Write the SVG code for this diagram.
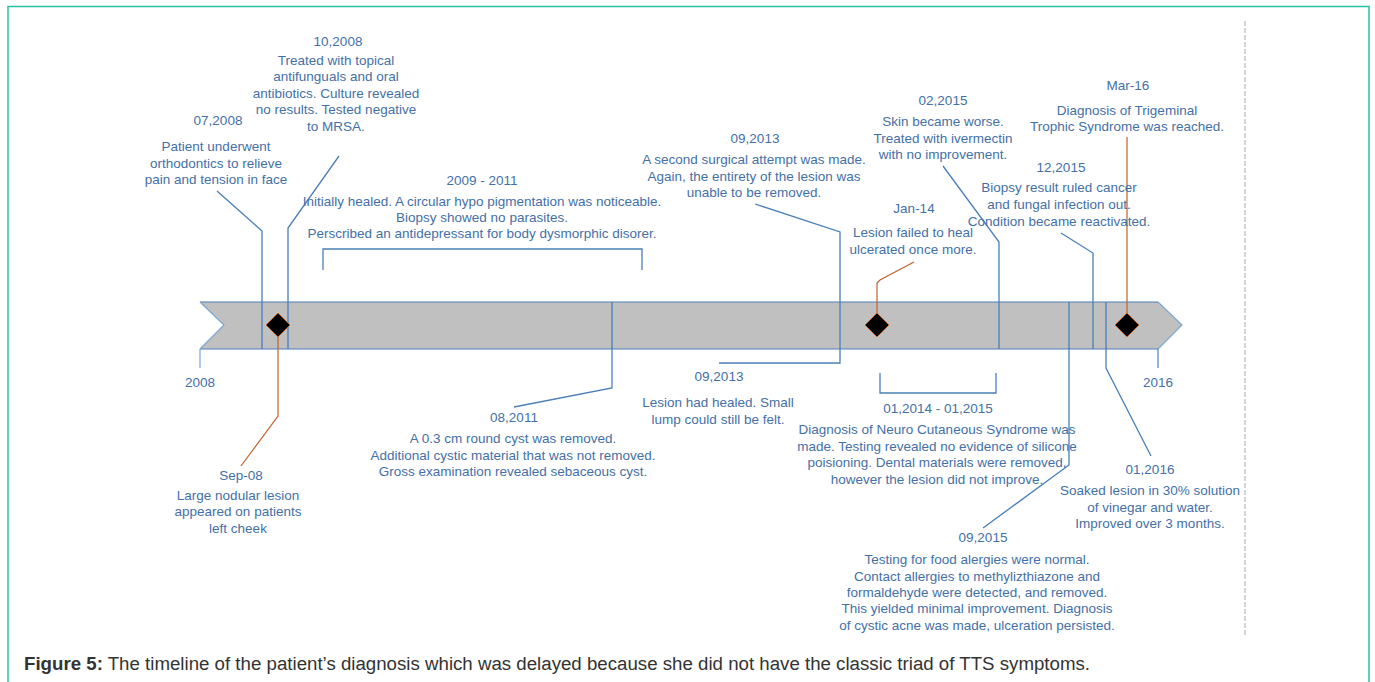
<svg xmlns="http://www.w3.org/2000/svg" width="1375" height="682" viewBox="0 0 1375 682">
<defs>
<style>
.t{font-family:"Liberation Sans",Arial,sans-serif;font-size:13.5px;fill:#4470a6;text-anchor:middle}
.c{fill:none;stroke:#4a7fb8;stroke-width:1.3}
.o{fill:none;stroke:#c0612a;stroke-width:1.2}
.d{fill:#000;stroke:#c0612a;stroke-width:1}
.cap{font-family:"Liberation Sans",Arial,sans-serif;font-size:18px;fill:#333}
</style>
</defs>
<rect x="8" y="6.5" width="1361" height="720" fill="#fff" stroke="#28c2a4" stroke-width="1.5"/>
<line x1="1245" y1="21" x2="1245" y2="637" stroke="#bdbdbd" stroke-width="1.3" stroke-dasharray="5,2"/>
<g id="timeline-bar">
<polygon points="200,302 1158,302 1182,325 1158,349 200,349 224,325" fill="#c0c0c0" stroke="none"/>
<line x1="200" y1="302" x2="1158" y2="302" stroke="#4a7fb8" stroke-width="1.2"/>
<line x1="200" y1="349" x2="1158" y2="349" stroke="#4a7fb8" stroke-width="1.2"/>
<polyline points="200,302 224,325 200,349" fill="none" stroke="#7aa7d6" stroke-width="1.2"/>
<polyline points="1158,302 1182,325 1158,349" fill="none" stroke="#7aa7d6" stroke-width="1.2"/>
<line x1="200" y1="349" x2="200" y2="368" stroke="#7aa7d6" stroke-width="1.2"/>
<line x1="1158" y1="349" x2="1158" y2="368" stroke="#4a7fb8" stroke-width="1.2"/>
<text class="t" x="200" y="387">2008</text>
<text class="t" x="1158" y="387">2016</text>
</g>
<g id="connectors">
<path class="c" d="M217,191 L262,231 V349"/>
<path class="c" d="M339,156 L288,228 V349"/>
<path class="c" d="M323,270 V249 H642 V270"/>
<path class="c" d="M612,302 V388 L514,407"/>
<path class="c" d="M755,204 L840,232 V363 H719"/>
<path class="c" d="M880,373 V393 H996 V373"/>
<path class="c" d="M943,166 L999,242 V349"/>
<path class="c" d="M1069,302 V465 L983,528"/>
<path class="c" d="M1061,233 L1093,253 V349"/>
<path class="c" d="M1106,302 V368 L1151,456"/>
<path class="o" d="M278,337 V416 L241,466"/>
<path class="o" d="M914,262 L880,280 L877,283 V313"/>
<path class="o" d="M1127,137 V313"/>
</g>
<g id="diamond-sep08"><polygon class="d" points="278,313 290,325 278,337 266,325"/></g>
<g id="diamond-jan14"><polygon class="d" points="877,313 889,325 877,337 865,325"/></g>
<g id="diamond-mar16"><polygon class="d" points="1127,313 1139,325 1127,337 1115,325"/></g>
<g id="n-10-2008">
<text class="t" x="338" y="46">10,2008</text>
<text class="t" x="336" y="65">Treated with topical</text>
<text class="t" x="336" y="81">antifunguals and oral</text>
<text class="t" x="336" y="98">antibiotics. Culture revealed</text>
<text class="t" x="336" y="114">no results. Tested negative</text>
<text class="t" x="336" y="131">to MRSA.</text>
</g>
<g id="n-07-2008">
<text class="t" x="218" y="125">07,2008</text>
<text class="t" x="216" y="151">Patient underwent</text>
<text class="t" x="216" y="168">orthodontics to relieve</text>
<text class="t" x="216" y="184">pain and tension in face</text>
</g>
<g id="n-2009-2011">
<text class="t" x="482" y="185">2009 - 2011</text>
<text class="t" x="482" y="206">Initially healed. A circular hypo pigmentation was noticeable.</text>
<text class="t" x="482" y="222">Biopsy showed no parasites.</text>
<text class="t" x="482" y="238">Perscribed an antidepressant for body dysmorphic disorer.</text>
</g>
<g id="n-09-2013a">
<text class="t" x="755" y="143">09,2013</text>
<text class="t" x="754" y="164">A second surgical attempt was made.</text>
<text class="t" x="754" y="181">Again, the entirety of the lesion was</text>
<text class="t" x="754" y="197">unable to be removed.</text>
</g>
<g id="n-02-2015">
<text class="t" x="943" y="105">02,2015</text>
<text class="t" x="943" y="126">Skin became worse.</text>
<text class="t" x="943" y="143">Treated with ivermectin</text>
<text class="t" x="943" y="159">with no improvement.</text>
</g>
<g id="n-jan-14">
<text class="t" x="914" y="213">Jan-14</text>
<text class="t" x="913" y="237">Lesion failed to heal</text>
<text class="t" x="913" y="254">ulcerated once more.</text>
</g>
<g id="n-mar-16">
<text class="t" x="1128" y="90">Mar-16</text>
<text class="t" x="1127" y="115">Diagnosis of Trigeminal</text>
<text class="t" x="1127" y="131">Trophic Syndrome was reached.</text>
</g>
<g id="n-12-2015">
<text class="t" x="1061" y="172">12,2015</text>
<text class="t" x="1059" y="192">Biopsy result ruled cancer</text>
<text class="t" x="1059" y="209">and fungal infection out.</text>
<text class="t" x="1059" y="226">Condition became reactivated.</text>
</g>
<g id="n-09-2013b">
<text class="t" x="719" y="381">09,2013</text>
<text class="t" x="718" y="407">Lesion had healed. Small</text>
<text class="t" x="718" y="424">lump could still be felt.</text>
</g>
<g id="n-2014-2015">
<text class="t" x="938" y="413">01,2014 - 01,2015</text>
<text class="t" x="937" y="434">Diagnosis of Neuro Cutaneous Syndrome was</text>
<text class="t" x="937" y="451">made. Testing revealed no evidence of silicone</text>
<text class="t" x="937" y="467">poisioning. Dental materials were removed,</text>
<text class="t" x="937" y="484">however the lesion did not improve.</text>
</g>
<g id="n-08-2011">
<text class="t" x="514" y="422">08,2011</text>
<text class="t" x="513" y="443">A 0.3 cm round cyst was removed.</text>
<text class="t" x="513" y="460">Additional cystic material that was not removed.</text>
<text class="t" x="513" y="476">Gross examination revealed sebaceous cyst.</text>
</g>
<g id="n-sep-08">
<text class="t" x="241" y="480">Sep-08</text>
<text class="t" x="238" y="500">Large nodular lesion</text>
<text class="t" x="238" y="516">appeared on patients</text>
<text class="t" x="238" y="533">left cheek</text>
</g>
<g id="n-01-2016">
<text class="t" x="1150" y="474">01,2016</text>
<text class="t" x="1150" y="495">Soaked lesion in 30% solution</text>
<text class="t" x="1150" y="512">of vinegar and water.</text>
<text class="t" x="1150" y="528">Improved over 3 months.</text>
</g>
<g id="n-09-2015">
<text class="t" x="983" y="542">09,2015</text>
<text class="t" x="977" y="564">Testing for food alergies were normal.</text>
<text class="t" x="977" y="581">Contact allergies to methylizthiazone and</text>
<text class="t" x="977" y="597">formaldehyde were detected, and removed.</text>
<text class="t" x="977" y="613">This yielded minimal improvement. Diagnosis</text>
<text class="t" x="977" y="630">of cystic acne was made, ulceration persisted.</text>
</g>
<text class="cap" x="24" y="670" textLength="1066" lengthAdjust="spacingAndGlyphs"><tspan font-weight="bold">Figure 5:</tspan> The timeline of the patient’s diagnosis which was delayed because she did not have the classic triad of TTS symptoms.</text>
</svg>
